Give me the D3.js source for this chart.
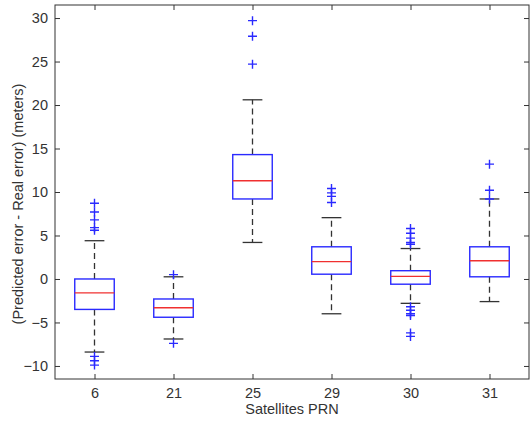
<!DOCTYPE html>
<html>
<head>
<meta charset="utf-8">
<script src="https://cdn.jsdelivr.net/npm/d3@7"></script>
<style>
  body { margin: 0; background: #fff; }
  svg { font-family: "Liberation Sans", Arial, sans-serif; }
</style>
</head>
<body>
<div id="chart"></div>
<script>
// box plot values
var prn = ["6", "21", "25", "29", "30", "31"]
var q1 = [-3.5, -4.4, 9.2, 0.55, -0.6, 0.25]
var median = [-1.6, -3.3, 11.3, 2.0, 0.3, 2.1]
var q3 = [0.0, -2.3, 14.3, 3.7, 0.95, 3.7]
var whiskerLow = [-8.4, -6.9, 4.2, -4.0, -2.8, -2.6]
var whiskerHigh = [4.4, 0.25, 20.6, 7.05, 3.5, 9.2]
var outliers = [
  [8.7, 7.7, 6.8, 5.9, 5.6, -8.9, -9.4, -9.9],
  [0.5, -7.4],
  [29.7, 27.9, 24.7],
  [10.4, 9.9, 9.5, 8.8],
  [5.8, 5.25, 4.7, 4.2, 4.0, -3.2, -3.6, -4.0, -4.2, -6.2, -6.6],
  [13.2, 10.2, 9.2]
]
var yTicks = [-10, -5, 0, 5, 10, 15, 20, 25, 30]

var data = prn.map(function (p, i) {
  return { prn: p, q1: q1[i], med: median[i], q3: q3[i],
    lo: whiskerLow[i], hi: whiskerHigh[i], out: outliers[i] }
})

drawChart(data)

function drawChart(data) {
  var W = 531, H = 421
  var plotL = 55, plotR = 529, plotT = 5, plotB = 379
  var fontSize = "14.5px"

  var svg = d3.select("#chart").append("svg")
    .attr("width", W).attr("height", H)

  var x = d3.scalePoint().domain(prn).range([plotL, plotR]).padding(0.5)
  var y = d3.scaleLinear().domain([-11.5, 31.5]).range([plotB, plotT])

  var boxW = x.step() * 0.5
  var capW = boxW * 0.5

  // frame
  svg.append("rect")
    .attr("x", plotL).attr("y", plotT)
    .attr("width", plotR - plotL).attr("height", plotB - plotT)
    .attr("fill", "none").attr("stroke", "#333").attr("stroke-width", 1)

  // axes with inward ticks (MATLAB look)
  function styleAxis(g) {
    g.select(".domain").remove()
    g.selectAll(".tick line").attr("stroke", "#333")
    g.selectAll(".tick text").attr("fill", "#333").style("font-size", fontSize)
  }

  svg.append("g")
    .attr("transform", "translate(0," + plotB + ")")
    .call(d3.axisBottom(x).tickSizeInner(-5).tickSizeOuter(0).tickPadding(9))
    .call(styleAxis)

  svg.append("g")
    .attr("transform", "translate(0," + plotT + ")")
    .call(d3.axisTop(x).tickSizeInner(-5).tickSizeOuter(0).tickFormat(""))
    .call(styleAxis)

  svg.append("g")
    .attr("transform", "translate(" + plotL + ",0)")
    .call(d3.axisLeft(y).tickValues(yTicks).tickSizeInner(-5).tickSizeOuter(0).tickPadding(7))
    .call(styleAxis)

  svg.append("g")
    .attr("transform", "translate(" + plotR + ",0)")
    .call(d3.axisRight(y).tickValues(yTicks).tickSizeInner(-5).tickSizeOuter(0).tickFormat(""))
    .call(styleAxis)

  var box = svg.append("g").selectAll("g.box").data(data)
    .enter().append("g").attr("class", "box")

  // dashed whiskers
  box.append("line")
    .attr("x1", function (d) { return x(d.prn) }).attr("x2", function (d) { return x(d.prn) })
    .attr("y1", function (d) { return y(d.q3) }).attr("y2", function (d) { return y(d.hi) })
    .attr("stroke", "#333").attr("stroke-width", 1.3).attr("stroke-dasharray", "6,4")
  box.append("line")
    .attr("x1", function (d) { return x(d.prn) }).attr("x2", function (d) { return x(d.prn) })
    .attr("y1", function (d) { return y(d.q1) }).attr("y2", function (d) { return y(d.lo) })
    .attr("stroke", "#333").attr("stroke-width", 1.3).attr("stroke-dasharray", "6,4")

  // caps
  box.append("line")
    .attr("x1", function (d) { return x(d.prn) - capW / 2 }).attr("x2", function (d) { return x(d.prn) + capW / 2 })
    .attr("y1", function (d) { return y(d.hi) }).attr("y2", function (d) { return y(d.hi) })
    .attr("stroke", "#333").attr("stroke-width", 1.3)
  box.append("line")
    .attr("x1", function (d) { return x(d.prn) - capW / 2 }).attr("x2", function (d) { return x(d.prn) + capW / 2 })
    .attr("y1", function (d) { return y(d.lo) }).attr("y2", function (d) { return y(d.lo) })
    .attr("stroke", "#333").attr("stroke-width", 1.3)

  box.append("rect")
    .attr("x", function (d) { return x(d.prn) - boxW / 2 })
    .attr("y", function (d) { return y(d.q3) })
    .attr("width", boxW)
    .attr("height", function (d) { return y(d.q1) - y(d.q3) })
    .attr("fill", "none").attr("stroke", "#2a2aff").attr("stroke-width", 1.4)

  box.append("line")
    .attr("x1", function (d) { return x(d.prn) - boxW / 2 }).attr("x2", function (d) { return x(d.prn) + boxW / 2 })
    .attr("y1", function (d) { return y(d.med) }).attr("y2", function (d) { return y(d.med) })
    .attr("stroke", "#f03030").attr("stroke-width", 1.4)

  // outliers as plus signs
  box.selectAll("path.out")
    .data(function (d) { return d.out.map(function (v) { return { prn: d.prn, v: v } }) })
    .enter().append("path")
    .attr("class", "out")
    .attr("d", function (d) {
      var cx = x(d.prn), cy = y(d.v), r = 4.5
      return "M" + (cx - r) + "," + cy + "H" + (cx + r) + "M" + cx + "," + (cy - r) + "V" + (cy + r)
    })
    .attr("stroke", "#2a2aff").attr("stroke-width", 1.4).attr("fill", "none")

  // axis labels
  svg.append("text")
    .attr("x", (plotL + plotR) / 2).attr("y", 414)
    .attr("text-anchor", "middle")
    .style("font-size", fontSize).attr("fill", "#333")
    .text("Satellites PRN")

  svg.append("text")
    .attr("transform", "translate(23,204) rotate(-90)")
    .attr("text-anchor", "middle")
    .style("font-size", fontSize).attr("fill", "#333")
    .text("(Predicted error - Real error) (meters)")
}
</script>
</body>
</html>
